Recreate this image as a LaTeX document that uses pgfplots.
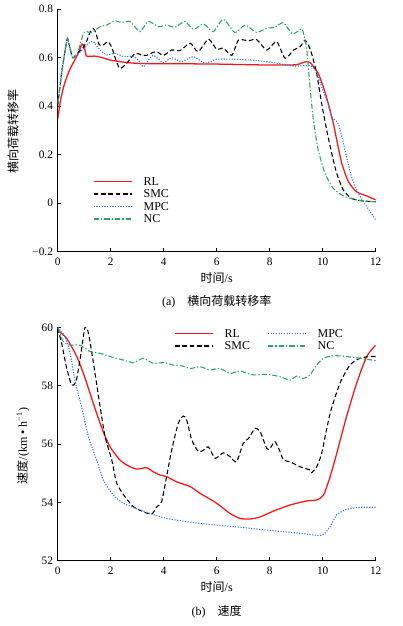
\documentclass[border=0pt]{standalone}
\usepackage{fontspec}
\setmainfont{Liberation Serif}
\newfontfamily\cjk{Noto Sans CJK SC}
\usepackage{pgfplots}
\pgfplotsset{compat=1.18}
\definecolor{myred}{RGB}{250,20,20}
\definecolor{myblue}{RGB}{40,120,230}
\definecolor{mygreen}{RGB}{40,165,95}
\pgfplotsset{
  common/.style={
    scale only axis,
    width=238.5pt,
    axis x line*=bottom, axis y line*=left,
    xmin=0, xmax=12, xtick={0,2,...,12},
    tick align=inside, major tick length=2.5pt,
    tick style={black, line width=0.5pt},
    axis line style={line width=0.5pt, black},
    /pgf/number format/assume math mode=true,
    ticklabel style={font=\fontsize{8.5}{10}\selectfont},
    xticklabel style={yshift=-1pt},
    legend style={draw=none, fill=none, font=\fontsize{9}{10}\selectfont,
      inner sep=0pt, row sep=0pt,
      nodes={inner sep=0.7pt, text height=6.5pt, text depth=1.5pt},
      /tikz/every odd column/.append style={column sep=7.5pt}},
    legend cell align=left,
    legend image code/.code={\draw[##1, line width=1.3pt] (0pt,0.3pt) -- (28.5pt,0.3pt);},
    every axis plot/.append style={smooth, tension=0.4},
  },
}
\begin{document}
\begin{tikzpicture}
\useasboundingbox (0pt,0pt) rectangle (302.25pt,469.5pt);
\begin{axis}[common, at={(43.275pt,280.725pt)}, anchor=south west, height=181.8pt,
  ymin=-0.2, ymax=0.8, ytick={-0.2,0,0.2,0.4,0.6,0.8},
  yticklabels={−0.2,0,0.2,0.4,0.6,0.8},
  legend style={at={(axis description cs:0.11,0.315)}, anchor=north west}]
\addplot[draw=myred, line width=0.95pt] coordinates {(0,0.346)(0.1,0.42)(0.25,0.49)(0.45,0.55)(0.65,0.592)(0.8,0.625)(0.92,0.657)(1.0,0.645)(1.08,0.608)(1.2,0.606)(1.4,0.607)(1.7,0.6)(2.0,0.59)(2.5,0.582)(3,0.577)(4,0.575)(5,0.575)(6,0.574)(7,0.572)(8,0.57)(8.95,0.571)(9.2,0.578)(9.4,0.584)(9.55,0.578)(9.65,0.563)(9.83,0.536)(10.02,0.481)(10.21,0.412)(10.4,0.33)(10.53,0.261)(10.72,0.165)(10.97,0.089)(11.28,0.047)(11.66,0.03)(12,0.014)};
\addlegendentry{RL}
\addplot[draw=black, line width=0.8pt, dash pattern=on 3.5pt off 2pt] coordinates {(0,0.40)(0.15,0.54)(0.28,0.63)(0.37,0.68)(0.47,0.635)(0.57,0.6)(0.75,0.62)(0.95,0.64)(1.1,0.67)(1.22,0.705)(1.35,0.72)(1.45,0.7)(1.57,0.653)(1.75,0.655)(1.9,0.667)(2.05,0.64)(2.2,0.59)(2.35,0.556)(2.6,0.577)(2.92,0.618)(3.15,0.612)(3.36,0.61)(3.55,0.62)(3.74,0.625)(3.99,0.61)(4.3,0.632)(4.62,0.63)(5.0,0.66)(5.3,0.625)(5.69,0.677)(6.0,0.635)(6.25,0.64)(6.57,0.61)(6.82,0.673)(7.2,0.67)(7.5,0.676)(7.89,0.632)(8.26,0.667)(8.58,0.598)(8.9,0.632)(9.15,0.646)(9.33,0.673)(9.45,0.655)(9.58,0.618)(9.77,0.536)(9.96,0.412)(10.15,0.302)(10.34,0.206)(10.53,0.123)(10.78,0.054)(11.09,0.02)(11.47,0.01)(12,0.006)};
\addlegendentry{SMC}
\addplot[draw=myblue, line width=0.8pt, dash pattern=on 0.9pt off 1.1pt] coordinates {(0,0.41)(0.15,0.536)(0.28,0.632)(0.37,0.675)(0.47,0.635)(0.57,0.598)(0.75,0.615)(0.97,0.635)(1.16,0.66)(1.34,0.667)(1.6,0.632)(1.85,0.612)(2.16,0.618)(2.48,0.605)(2.86,0.605)(3.05,0.59)(3.23,0.563)(3.42,0.59)(3.6,0.61)(3.8,0.595)(4.0,0.58)(4.3,0.60)(4.68,0.584)(5.12,0.605)(5.56,0.577)(6.0,0.594)(6.63,0.594)(7.38,0.59)(8.14,0.58)(8.9,0.566)(9.52,0.568)(9.71,0.55)(9.96,0.481)(10.15,0.426)(10.34,0.357)(10.5,0.34)(10.6,0.325)(10.72,0.274)(10.9,0.192)(11.09,0.109)(11.34,0.041)(11.66,-0.014)(12,-0.068)};
\addlegendentry{MPC}
\addplot[draw=mygreen, line width=0.8pt, dash pattern=on 4pt off 1.5pt on 1pt off 1.5pt] coordinates {(0,0.412)(0.15,0.536)(0.28,0.632)(0.37,0.68)(0.47,0.64)(0.57,0.6)(0.75,0.62)(0.97,0.70)(1.1,0.708)(1.28,0.704)(1.6,0.728)(1.85,0.735)(2.16,0.753)(2.4,0.745)(2.73,0.75)(3.1,0.708)(3.42,0.75)(3.8,0.728)(4.11,0.735)(4.43,0.726)(4.8,0.75)(5.12,0.717)(5.5,0.74)(5.87,0.708)(6.25,0.759)(6.69,0.704)(7.07,0.735)(7.5,0.705)(7.89,0.722)(8.2,0.726)(8.52,0.745)(8.83,0.70)(9.05,0.708)(9.21,0.72)(9.3,0.69)(9.4,0.632)(9.52,0.481)(9.65,0.343)(9.83,0.22)(10.09,0.123)(10.4,0.061)(10.84,0.027)(11.47,0.01)(12,0.006)};
\addlegendentry{NC}
\end{axis}
\node[font=\fontsize{9}{10}\selectfont] at (162.5pt,261.2pt) {{\cjk 时间}/s};
\node[font=\fontsize{9}{10}\selectfont] at (162.5pt,243.2pt) {(a)\quad{\cjk 横向荷载转移率}};
\node[font=\fontsize{9}{10}\selectfont, rotate=90] at (9.75pt,370.9pt) {\cjk 横向荷载转移率};
\begin{axis}[common, at={(43.275pt,48.975pt)}, anchor=south west, height=175pt,
  ymin=52, ymax=60, ytick={52,54,...,60},
  transpose legend, legend columns=2,
  legend style={at={(axis description cs:0.365,1.0)}, anchor=north west,
    /tikz/every even column/.append style={column sep=12pt}}]
\addplot[draw=myred, line width=0.95pt] coordinates {(0,59.9)(0.34,59.62)(0.72,59.0)(0.97,58.42)(1.22,57.74)(1.47,57.05)(1.72,56.42)(1.97,55.91)(2.35,55.45)(2.67,55.25)(2.98,55.14)(3.36,55.19)(3.6,55.05)(3.86,54.94)(4.11,54.88)(4.5,54.7)(5.0,54.54)(5.37,54.31)(6.0,53.97)(6.5,53.62)(6.88,53.45)(7.26,53.43)(7.64,53.5)(8.14,53.7)(8.77,53.91)(9.4,54.05)(9.77,54.08)(10.03,54.25)(10.28,54.88)(10.53,55.68)(10.9,56.94)(11.28,58.08)(11.66,59.0)(12,59.39)};
\addlegendentry{RL}
\addplot[draw=black, line width=0.8pt, dash pattern=on 3.5pt off 2pt] coordinates {(0,59.97)(0.15,59.45)(0.34,58.6)(0.53,58.02)(0.69,58.14)(0.84,58.88)(1.03,60.0)(1.16,59.8)(1.35,58.77)(1.6,57.28)(1.79,56.25)(2.04,55.45)(2.23,54.65)(2.54,54.19)(2.86,53.85)(3.23,53.68)(3.55,53.6)(3.74,53.85)(3.92,54.02)(4.11,54.88)(4.3,55.79)(4.55,56.71)(4.74,56.96)(4.87,56.82)(5.06,56.14)(5.31,55.74)(5.5,55.79)(5.69,55.9)(5.94,55.51)(6.25,55.7)(6.5,55.57)(6.75,55.39)(7.0,56.02)(7.2,56.19)(7.45,56.54)(7.64,56.42)(7.89,55.85)(8.01,55.85)(8.2,56.08)(8.39,55.74)(8.52,55.45)(8.77,55.39)(9.15,55.22)(9.52,55.11)(9.58,55.02)(9.77,55.22)(9.96,55.68)(10.28,57.05)(10.65,58.08)(11.03,58.71)(11.4,58.94)(11.79,59.0)(12,59.0)};
\addlegendentry{SMC}
\addplot[draw=myblue, line width=0.8pt, dash pattern=on 0.9pt off 1.1pt] coordinates {(0,60)(0.28,59.68)(0.47,59.11)(0.65,58.19)(0.9,57.28)(1.16,56.25)(1.47,55.45)(1.72,54.77)(2.1,54.25)(2.48,53.97)(3.1,53.74)(4.11,53.45)(5.37,53.28)(6.63,53.17)(7.89,53.05)(9.15,52.94)(9.96,52.87)(10.28,53.17)(10.53,53.57)(10.9,53.76)(11.4,53.83)(12,53.83)};
\addlegendentry{MPC}
\addplot[draw=mygreen, line width=0.8pt, dash pattern=on 4pt off 1.5pt on 1pt off 1.5pt] coordinates {(0,60)(0.21,59.51)(0.47,59.39)(0.84,59.39)(1.22,59.17)(1.6,59.11)(1.97,59.0)(2.48,58.88)(2.86,58.79)(3.23,58.94)(3.6,58.77)(4.0,58.79)(4.36,58.71)(4.74,58.67)(5.0,58.59)(5.37,58.65)(5.75,58.54)(6.13,58.59)(6.5,58.42)(6.88,58.5)(7.38,58.37)(7.89,58.39)(8.39,58.31)(8.77,58.19)(9.02,58.33)(9.27,58.25)(9.52,58.37)(9.77,58.71)(10.03,58.94)(10.4,59.03)(10.9,59.0)(11.4,58.94)(12,58.86)};
\addlegendentry{NC}
\end{axis}
\node[font=\fontsize{9}{10}\selectfont] at (162.5pt,29.25pt) {{\cjk 时间}/s};
\node[font=\fontsize{9}{10}\selectfont] at (162.5pt,10.7pt) {(b)\quad{\cjk 速度}};
\node[font=\fontsize{9}{10}\selectfont, rotate=90] at (17.25pt,135pt) {{\cjk 速度}/(km • h\textsuperscript{−1})};
\end{tikzpicture}
\end{document}
